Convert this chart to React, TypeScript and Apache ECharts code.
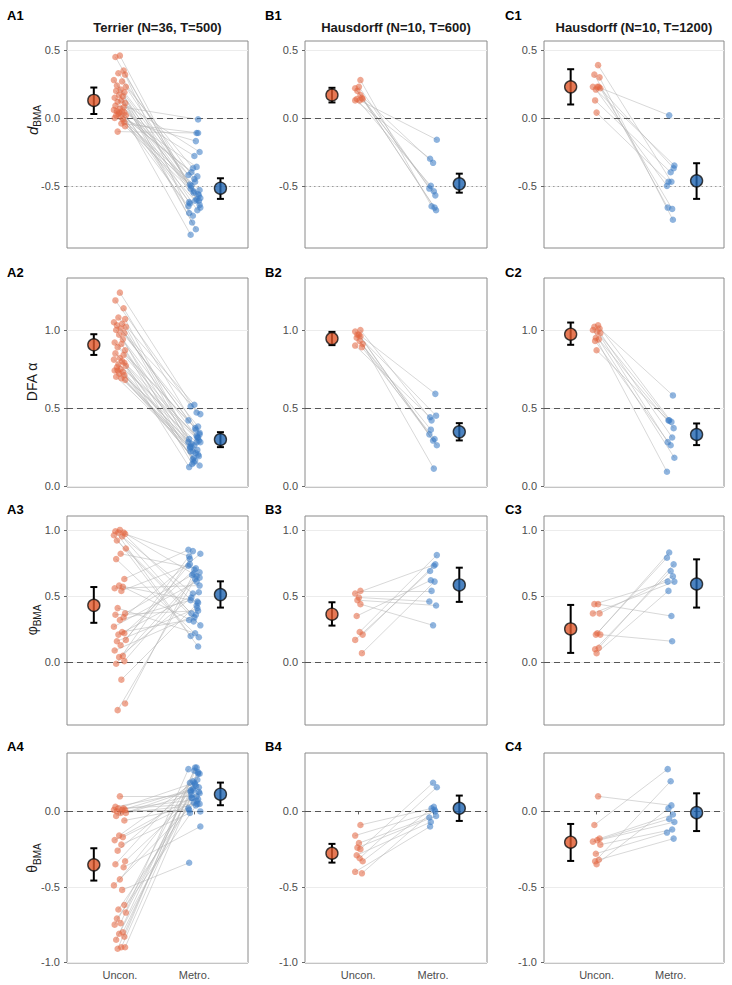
import { useEffect, useRef } from "react";
import * as echarts from "echarts";

// ---------- labels ----------
const GROUPS = ["Uncon.", "Metro."];
const COLUMN_TITLES = ["Terrier (N=36, T=500)", "Hausdorff (N=10, T=600)", "Hausdorff (N=10, T=1200)"];
const PANEL_LABELS = [
  ["A1", "B1", "C1"],
  ["A2", "B2", "C2"],
  ["A3", "B3", "C3"],
  ["A4", "B4", "C4"],
];
const Y_TITLES = ["{it|d}{sub|BMA}", "{reg|DFA α}", "{reg|φ}{sub|BMA}", "{reg|θ}{sub|BMA}"];

// ---------- axes ----------
const Y_TICKS = [
  [-0.5, 0, 0.5],
  [0, 0.5, 1],
  [0, 0.5, 1],
  [-1, -0.5, 0],
];
const Y_LIMITS = [
  [-0.958, 0.568],
  [-0.008, 1.334],
  [-0.472, 1.105],
  [-1.004, 0.387],
];
const X_LIMITS = [0.29, 2.72];
const X_GROUP = [1, 2];
const X_SUMMARY = [0.65, 2.35];
const REF_DASHED = [0, 0.5, 0, 0];
const REF_DOTTED = [-0.5, null, null, null];

// ---------- horizontal jitter of the paired points ----------
const JIT_A_U = [0.0, -0.06, 0.05, -0.02, 0.07, -0.08, 0.03, -0.04, 0.08, 0.01, -0.05, 0.06, -0.01, 0.04, -0.07, 0.02, -0.03, 0.07, -0.06, 0.05, 0.0, -0.08, 0.03, 0.06, -0.02, 0.08, -0.04, 0.01, -0.07, 0.04, -0.01, 0.06, -0.05, 0.02, 0.07, -0.03];
const JIT_A_M = [0.03, -0.05, 0.07, 0.0, -0.07, 0.05, -0.02, 0.08, -0.04, 0.02, 0.06, -0.08, 0.04, -0.01, 0.07, -0.06, 0.01, -0.03, 0.05, 0.08, -0.05, 0.03, -0.07, 0.0, 0.06, -0.02, 0.04, -0.08, 0.02, 0.07, -0.04, 0.01, -0.06, 0.05, -0.01, 0.03];
const JIT_B_U = [0.03, -0.04, 0.01, -0.01, 0.03, -0.02, 0.02, 0.06, -0.04, 0.05];
const JIT_B_M = [-0.02, 0.03, -0.05, 0.04, 0.0, -0.03, 0.05, 0.01, -0.04, 0.02];
const JIT_C_U = [0.02, -0.03, 0.04, -0.05, 0.01, 0.05, -0.01, 0.03, -0.02, 0.0];
const JIT_C_M = [0.01, -0.04, 0.03, 0.05, -0.02, 0.02, -0.05, 0.04, 0.0, -0.03];

// ---------- paired values (index i of Uncon. pairs with index i of Metro.) ----------
const A1_UNCON = [0.46, 0.45, 0.35, 0.33, 0.32, 0.28, 0.27, 0.24, 0.23, 0.21, 0.2, 0.19, 0.17, 0.16, 0.15, 0.13, 0.12, 0.11, 0.09, 0.08, 0.07, 0.06, 0.05, 0.04, 0.03, 0.02, 0.05, 0.01, 0.0, -0.01, 0.04, -0.03, 0.02, -0.04, -0.06, -0.1];
const A1_METRO = [-0.6, -0.52, -0.64, -0.45, -0.7, -0.56, -0.37, -0.66, -0.5, -0.82, -0.61, -0.42, -0.68, -0.54, -0.25, -0.63, -0.47, -0.77, -0.01, -0.59, -0.86, -0.36, -0.62, -0.28, -0.57, -0.72, -0.43, -0.65, -0.17, -0.53, -0.4, -0.61, -0.49, -0.11, -0.55, -0.11];
const B1_UNCON = [0.28, 0.22, 0.23, 0.2, 0.17, 0.14, 0.13, 0.14, 0.13, 0.15];
const B1_METRO = [-0.65, -0.57, -0.52, -0.68, -0.33, -0.5, -0.16, -0.54, -0.3, -0.66];
const C1_UNCON = [0.39, 0.32, 0.3, 0.23, 0.23, 0.22, 0.21, 0.23, 0.13, 0.04];
const C1_METRO = [-0.47, -0.66, -0.75, -0.35, 0.02, -0.67, -0.5, -0.37, -0.4, -0.47];

const A2_UNCON = [1.24, 1.19, 1.14, 1.08, 1.07, 1.05, 1.04, 1.03, 1.02, 1.01, 1.0, 0.98, 0.97, 0.94, 0.92, 0.91, 0.89, 0.87, 0.85, 0.84, 0.82, 0.81, 0.8, 0.79, 0.78, 0.77, 0.76, 0.75, 0.74, 0.73, 0.72, 0.71, 0.7, 0.69, 0.68, 0.74];
const A2_METRO = [0.47, 0.51, 0.33, 0.52, 0.3, 0.38, 0.22, 0.46, 0.27, 0.36, 0.19, 0.42, 0.31, 0.15, 0.34, 0.25, 0.37, 0.14, 0.31, 0.28, 0.22, 0.32, 0.12, 0.26, 0.29, 0.17, 0.23, 0.28, 0.21, 0.13, 0.25, 0.16, 0.24, 0.2, 0.18, 0.28];
const B2_UNCON = [1.0, 0.99, 0.97, 0.97, 0.96, 0.95, 0.93, 0.91, 0.9, 0.89];
const B2_METRO = [0.42, 0.59, 0.33, 0.45, 0.29, 0.36, 0.26, 0.11, 0.44, 0.3];
const C2_UNCON = [1.03, 1.02, 1.01, 1.0, 0.99, 0.98, 0.95, 0.94, 0.93, 0.87];
const C2_METRO = [0.41, 0.28, 0.58, 0.18, 0.42, 0.31, 0.09, 0.37, 0.26, 0.42];

const A3_UNCON = [1.0, 0.99, 0.98, 0.98, 0.97, 0.96, 0.95, 0.92, 0.86, 0.82, 0.78, 0.63, 0.58, 0.57, 0.56, 0.54, 0.41, 0.37, 0.36, 0.34, 0.32, 0.27, 0.23, 0.22, 0.21, 0.17, 0.16, 0.13, 0.09, 0.05, 0.04, 0.01, -0.01, -0.13, -0.31, -0.36];
const A3_METRO = [0.43, 0.2, 0.64, 0.34, 0.8, 0.12, 0.52, 0.28, 0.37, 0.71, 0.19, 0.85, 0.46, 0.31, 0.58, 0.74, 0.22, 0.66, 0.39, 0.82, 0.47, 0.61, 0.32, 0.7, 0.53, 0.84, 0.41, 0.73, 0.36, 0.68, 0.49, 0.63, 0.78, 0.45, 0.67, 0.65];
const B3_UNCON = [0.54, 0.52, 0.49, 0.47, 0.44, 0.35, 0.23, 0.21, 0.17, 0.07];
const B3_METRO = [0.54, 0.74, 0.46, 0.43, 0.28, 0.62, 0.81, 0.73, 0.69, 0.61];
const C3_UNCON = [0.44, 0.44, 0.37, 0.37, 0.22, 0.21, 0.21, 0.11, 0.1, 0.07];
const C3_METRO = [0.35, 0.61, 0.65, 0.61, 0.83, 0.16, 0.79, 0.74, 0.69, 0.54];

const A4_UNCON = [0.1, 0.03, 0.02, 0.02, 0.01, 0.01, 0.01, 0.0, -0.01, -0.01, -0.03, -0.06, -0.16, -0.17, -0.19, -0.22, -0.26, -0.33, -0.35, -0.37, -0.45, -0.49, -0.52, -0.62, -0.65, -0.67, -0.71, -0.74, -0.75, -0.8, -0.81, -0.83, -0.85, -0.9, -0.9, -0.91];
const A4_METRO = [0.1, 0.13, 0.05, 0.19, 0.01, 0.08, 0.15, 0.0, 0.11, 0.04, 0.16, 0.02, 0.21, 0.06, 0.12, -0.01, 0.18, 0.09, 0.25, -0.1, 0.14, 0.07, -0.34, 0.27, 0.13, 0.2, 0.05, 0.28, 0.17, 0.25, 0.09, 0.29, 0.19, 0.26, 0.14, 0.29];
const B4_UNCON = [-0.09, -0.16, -0.21, -0.24, -0.25, -0.29, -0.31, -0.33, -0.4, -0.41];
const B4_METRO = [0.02, 0.0, -0.04, -0.03, 0.19, -0.07, 0.16, 0.03, -0.1, 0.01];
const C4_UNCON = [0.1, -0.09, -0.18, -0.2, -0.19, -0.22, -0.28, -0.32, -0.33, -0.35];
const C4_METRO = [0.04, 0.28, -0.02, -0.07, -0.05, -0.12, -0.14, -0.18, 0.2, 0.02];

// ---------- group summaries: [mean, lower, upper] for Uncon. then Metro. ----------
const A1_STATS = [[0.13, 0.03, 0.225], [-0.517, -0.596, -0.444]];
const B1_STATS = [[0.17, 0.115, 0.223], [-0.485, -0.55, -0.41]];
const C1_STATS = [[0.23, 0.1, 0.36], [-0.463, -0.596, -0.333]];
const A2_STATS = [[0.905, 0.84, 0.973], [0.297, 0.248, 0.344]];
const B2_STATS = [[0.945, 0.903, 0.988], [0.346, 0.291, 0.402]];
const C2_STATS = [[0.973, 0.905, 1.048], [0.329, 0.261, 0.4]];
const A3_STATS = [[0.431, 0.299, 0.569], [0.512, 0.414, 0.612]];
const B3_STATS = [[0.364, 0.278, 0.454], [0.585, 0.457, 0.715]];
const C3_STATS = [[0.253, 0.072, 0.434], [0.592, 0.414, 0.778]];
const A4_STATS = [[-0.354, -0.458, -0.244], [0.114, 0.041, 0.191]];
const B4_STATS = [[-0.277, -0.339, -0.215], [0.021, -0.063, 0.105]];
const C4_STATS = [[-0.204, -0.328, -0.083], [-0.008, -0.13, 0.12]];

// ---------- layout & style ----------
const COL_LEFT = [67, 305, 544];
const COL_WIDTH = [181, 182, 180];
const ROW_TOP = [41, 278, 516, 753];
const ROW_HEIGHT = [207, 209, 209, 210];
const LABEL_X = [7, 265, 505];
const LABEL_Y = [15, 272, 509, 746];
const Y_TITLE_X = 32;
const Y_TITLE_Y = [120, 382, 620, 858];

const FONT = "'Liberation Sans', Arial, Helvetica, sans-serif";
const ORANGE_PT = "rgba(226, 100, 62, 0.7)";
const BLUE_PT = "rgba(56, 122, 196, 0.7)";
const ORANGE = "#E0572B";
const BLUE = "#1F64B0";
const TICK_COLOR = "#4d4d4d";

type Panel = {
  row: number;
  col: number;
  uncon: number[];
  metro: number[];
  stats: number[][];
};

const PANELS: Panel[] = [
  { row: 0, col: 0, uncon: A1_UNCON, metro: A1_METRO, stats: A1_STATS },
  { row: 0, col: 1, uncon: B1_UNCON, metro: B1_METRO, stats: B1_STATS },
  { row: 0, col: 2, uncon: C1_UNCON, metro: C1_METRO, stats: C1_STATS },
  { row: 1, col: 0, uncon: A2_UNCON, metro: A2_METRO, stats: A2_STATS },
  { row: 1, col: 1, uncon: B2_UNCON, metro: B2_METRO, stats: B2_STATS },
  { row: 1, col: 2, uncon: C2_UNCON, metro: C2_METRO, stats: C2_STATS },
  { row: 2, col: 0, uncon: A3_UNCON, metro: A3_METRO, stats: A3_STATS },
  { row: 2, col: 1, uncon: B3_UNCON, metro: B3_METRO, stats: B3_STATS },
  { row: 2, col: 2, uncon: C3_UNCON, metro: C3_METRO, stats: C3_STATS },
  { row: 3, col: 0, uncon: A4_UNCON, metro: A4_METRO, stats: A4_STATS },
  { row: 3, col: 1, uncon: B4_UNCON, metro: B4_METRO, stats: B4_STATS },
  { row: 3, col: 2, uncon: C4_UNCON, metro: C4_METRO, stats: C4_STATS },
];

const JITTER = [
  [JIT_A_U, JIT_A_M],
  [JIT_B_U, JIT_B_M],
  [JIT_C_U, JIT_C_M],
];

const isHalfStep = (v: number) => Math.abs(v * 2 - Math.round(v * 2)) < 1e-6;

function buildOption() {
  const grid: any[] = [];
  const xAxis: any[] = [];
  const yAxis: any[] = [];
  const series: any[] = [];
  const graphic: any[] = [];

  PANELS.forEach((p, i) => {
    const bottomRow = p.row === 3;
    const [ju, jm] = JITTER[p.col];

    grid.push({
      left: COL_LEFT[p.col],
      top: ROW_TOP[p.row],
      width: COL_WIDTH[p.col],
      height: ROW_HEIGHT[p.row],
      show: true,
      borderColor: "#8a8a8a",
      borderWidth: 1,
      backgroundColor: "#fff",
    });

    xAxis.push({
      type: "value",
      gridIndex: i,
      min: X_LIMITS[0],
      max: X_LIMITS[1],
      splitNumber: 2,
      minInterval: 1,
      maxInterval: 1,
      show: bottomRow,
      axisLine: { show: false },
      axisTick: { show: bottomRow, length: 3, customValues: X_GROUP, lineStyle: { color: "#666" } },
      axisLabel: {
        show: bottomRow,
        customValues: X_GROUP,
        color: TICK_COLOR,
        fontSize: 11,
        fontFamily: FONT,
        margin: 6,
        formatter: (v: number) =>
          Math.abs(v - X_GROUP[0]) < 1e-6 ? GROUPS[0] : Math.abs(v - X_GROUP[1]) < 1e-6 ? GROUPS[1] : "",
      },
      splitLine: { show: false },
    });

    yAxis.push({
      type: "value",
      gridIndex: i,
      min: Y_LIMITS[p.row][0],
      max: Y_LIMITS[p.row][1],
      splitNumber: 3,
      minInterval: 0.5,
      maxInterval: 0.5,
      axisLine: { show: false },
      axisTick: { show: true, length: 3, customValues: Y_TICKS[p.row], lineStyle: { color: "#666" } },
      axisLabel: {
        customValues: Y_TICKS[p.row],
        color: TICK_COLOR,
        fontSize: 11,
        fontFamily: FONT,
        margin: 7,
        formatter: (v: number) => (isHalfStep(v) ? v.toFixed(1) : ""),
      },
      splitLine: { show: true, lineStyle: { color: "#ececec", width: 1 } },
    });

    // reference lines
    const refs: any[] = [
      { yAxis: REF_DASHED[p.row], lineStyle: { color: "#555", width: 1.1, type: [6, 4] } },
    ];
    const dotted = REF_DOTTED[p.row];
    if (dotted !== null) {
      refs.push({ yAxis: dotted, lineStyle: { color: "#9a9a9a", width: 1.1, type: [1.5, 3] } });
    }

    // paired connectors
    series.push({
      type: "lines",
      coordinateSystem: "cartesian2d",
      xAxisIndex: i,
      yAxisIndex: i,
      silent: true,
      z: 1,
      lineStyle: { color: "#b4b4b4", width: 0.8, opacity: 0.65, curveness: 0 },
      data: p.uncon.map((u, k) => ({
        coords: [
          [X_GROUP[0] + ju[k], u],
          [X_GROUP[1] + jm[k], p.metro[k]],
        ],
      })),
    });

    series.push({
      type: "scatter",
      xAxisIndex: i,
      yAxisIndex: i,
      silent: true,
      z: 3,
      symbolSize: 6.5,
      itemStyle: { color: ORANGE_PT },
      data: p.uncon.map((u, k) => [X_GROUP[0] + ju[k], u]),
      markLine: {
        silent: true,
        z: 2,
        symbol: "none",
        label: { show: false },
        data: refs,
      },
    });

    series.push({
      type: "scatter",
      xAxisIndex: i,
      yAxisIndex: i,
      silent: true,
      z: 3,
      symbolSize: 6.5,
      itemStyle: { color: BLUE_PT },
      data: p.metro.map((m, k) => [X_GROUP[1] + jm[k], m]),
    });

    // error bars
    series.push({
      type: "custom",
      xAxisIndex: i,
      yAxisIndex: i,
      silent: true,
      z: 4,
      encode: { x: 0, y: [1, 2] },
      data: p.stats.map((s, g) => [X_SUMMARY[g], s[1], s[2]]),
      renderItem: (_params: any, api: any) => {
        const x = api.value(0);
        const lo = api.coord([x, api.value(1)]);
        const hi = api.coord([x, api.value(2)]);
        const w = 3.5;
        const style = { stroke: "#000", lineWidth: 2, fill: null };
        return {
          type: "group",
          children: [
            { type: "line", shape: { x1: lo[0], y1: lo[1], x2: hi[0], y2: hi[1] }, style },
            { type: "line", shape: { x1: lo[0] - w, y1: lo[1], x2: lo[0] + w, y2: lo[1] }, style },
            { type: "line", shape: { x1: hi[0] - w, y1: hi[1], x2: hi[0] + w, y2: hi[1] }, style },
          ],
        };
      },
    });

    // group means
    series.push({
      type: "scatter",
      xAxisIndex: i,
      yAxisIndex: i,
      silent: true,
      z: 5,
      symbolSize: 12,
      data: p.stats.map((s, g) => ({
        value: [X_SUMMARY[g], s[0]],
        itemStyle: { color: g === 0 ? ORANGE : BLUE, borderColor: "#111", borderWidth: 1.4 },
      })),
    });
  });

  // column titles
  COLUMN_TITLES.forEach((t, c) => {
    graphic.push({
      type: "text",
      x: COL_LEFT[c] + COL_WIDTH[c] / 2,
      y: 27,
      style: {
        text: t,
        align: "center",
        verticalAlign: "middle",
        fill: "#1a1a1a",
        fontSize: 13,
        fontWeight: "bold",
        fontFamily: FONT,
      },
    });
  });

  // panel labels
  PANEL_LABELS.forEach((row, r) =>
    row.forEach((lab, c) => {
      graphic.push({
        type: "text",
        x: LABEL_X[c],
        y: LABEL_Y[r],
        style: {
          text: lab,
          align: "left",
          verticalAlign: "middle",
          fill: "#000",
          fontSize: 13,
          fontWeight: "bold",
          fontFamily: FONT,
        },
      });
    })
  );

  // y-axis titles of the first column
  Y_TITLES.forEach((t, r) => {
    graphic.push({
      type: "text",
      x: Y_TITLE_X,
      y: Y_TITLE_Y[r],
      rotation: Math.PI / 2,
      style: {
        text: t,
        align: "center",
        verticalAlign: "middle",
        fill: "#1a1a1a",
        fontFamily: FONT,
        rich: {
          it: { fontStyle: "italic", fontSize: 15, lineHeight: 20, fill: "#1a1a1a", fontFamily: FONT },
          reg: { fontSize: 14, lineHeight: 20, fill: "#1a1a1a", fontFamily: FONT },
          sub: { fontSize: 10, lineHeight: 11, verticalAlign: "bottom", fill: "#1a1a1a", fontFamily: FONT },
        },
      },
    });
  });

  return {
    animation: false,
    backgroundColor: "#fff",
    grid,
    xAxis,
    yAxis,
    series,
    graphic,
  };
}

export default function App() {
  const ref = useRef<HTMLDivElement>(null);

  useEffect(() => {
    if (!ref.current) return;
    const chart = echarts.init(ref.current, null, { renderer: "svg" });
    chart.setOption(buildOption());
    return () => chart.dispose();
  }, []);

  return (
    <div
      ref={ref}
      style={{ position: "fixed", left: 0, top: 0, width: 732, height: 985, background: "#fff" }}
    />
  );
}
